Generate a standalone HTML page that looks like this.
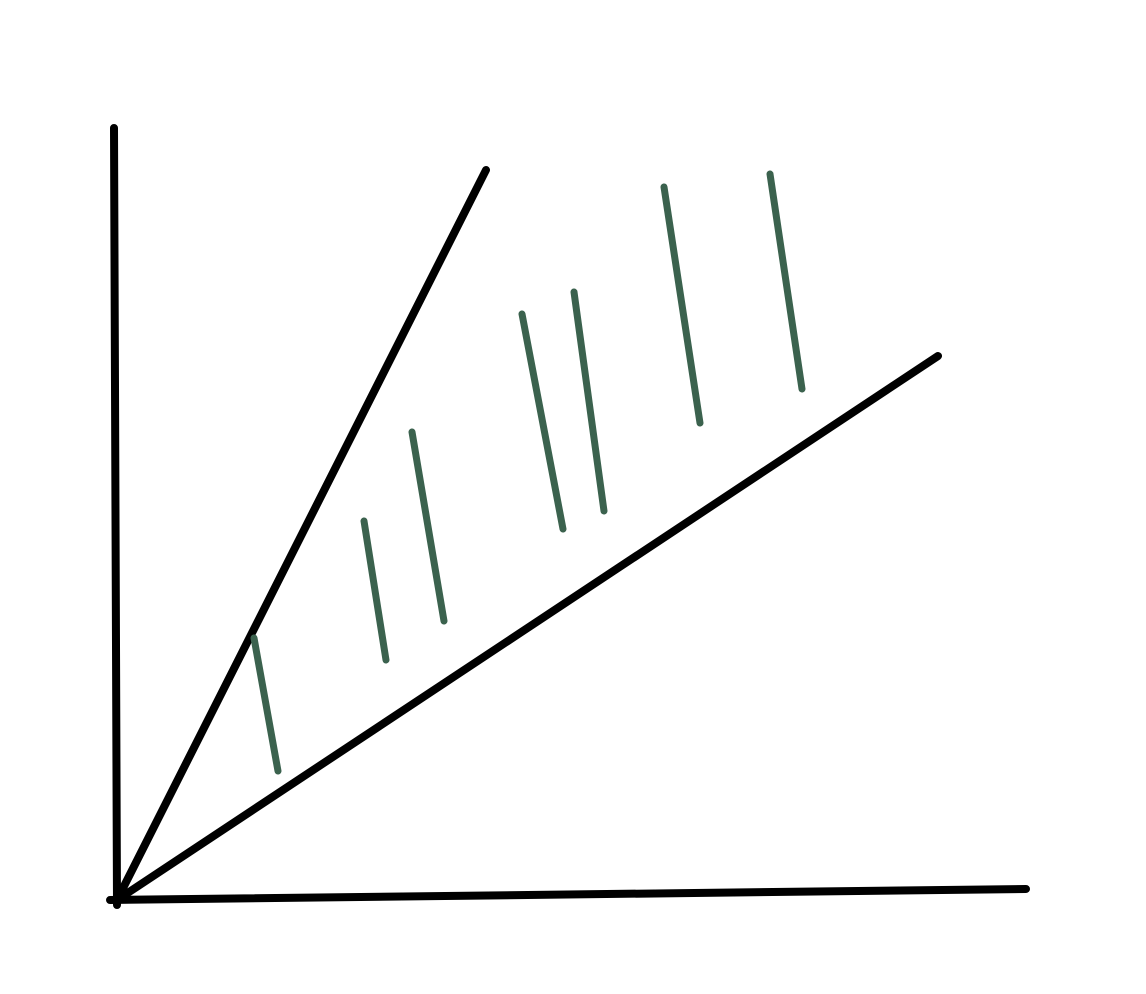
<!DOCTYPE html>
<html><head><meta charset="utf-8"><style>html,body{margin:0;padding:0;background:#fff;}svg{display:block;}</style></head>
<body>
<svg id="chart" width="1146" height="994" viewBox="0 0 1146 994" xmlns="http://www.w3.org/2000/svg"></svg>
<script>
// data in chart units (origin at axis corner, y up)
const segX1 = [137, 247, 295, 405, 457, 547, 653];
const segY1 = [262, 379, 468, 586, 608, 713, 726];
const segX2 = [161, 269, 327, 446, 487, 583, 685];
const segY2 = [129, 240, 279, 371, 389, 477, 511];
const rayEndX = [369, 821];
const rayEndY = [730, 544];
const x = v => 117 + v;
const y = v => 900 - v;
const svg = document.getElementById('chart');
const NS = 'http://www.w3.org/2000/svg';
function line(x1,y1,x2,y2,color,w){
  const l = document.createElementNS(NS,'line');
  l.setAttribute('x1',x1);l.setAttribute('y1',y1);l.setAttribute('x2',x2);l.setAttribute('y2',y2);
  l.setAttribute('stroke',color);l.setAttribute('stroke-width',w);l.setAttribute('stroke-linecap','round');
  svg.appendChild(l);return l;
}
let a = line(114,128,117,905,'#000',8);


a = line(110,900,1026,889,'#000',8);


for (let i=0;i<rayEndX.length;i++){
  const r = line(x(0),y(0),x(rayEndX[i]),y(rayEndY[i]),'#000',8);
  
  
}
for (let i=0;i<segX1.length;i++){
  const s = line(x(segX1[i]),y(segY1[i]),x(segX2[i]),y(segY2[i]),'#3b624e',7);
  
  
}
</script>
</body></html>
